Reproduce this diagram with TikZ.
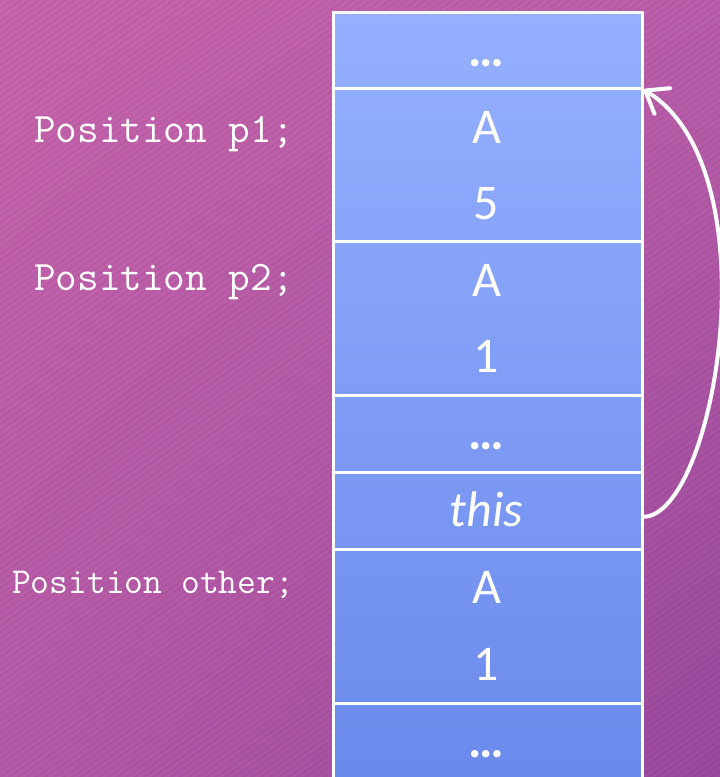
\documentclass[tikz,border=0pt]{standalone}
\usepackage{fontspec}
\setmainfont{Carlito}
\usetikzlibrary{arrows.meta,shadings}
\definecolor{bgUL}{HTML}{C865AD}
\definecolor{bgUR}{HTML}{BC5EAB}
\definecolor{bgLL}{HTML}{B65AA8}
\definecolor{bgLR}{HTML}{9A4A9E}
\definecolor{cellTop}{HTML}{95B0FF}
\definecolor{cellBot}{HTML}{6A8AEC}
\tikzset{
  cell/.style={draw=white, line width=2.5pt, rectangle, minimum width=309pt, anchor=north west, inner sep=0pt},
  val/.style={text=white, font=\fontsize{50}{60}\selectfont, anchor=base, inner sep=0pt},
  dots/.style={val, font=\fontsize{50}{60}\selectfont\bfseries},
  lab/.style={text=white, anchor=base west, inner sep=0pt},
  stripe/.style={draw=black, draw opacity=0.045, line width=2.2pt},
  arr/.style={draw=white, line width=4pt, line cap=round, -{Straight Barb[length=20pt,width=30pt,line cap=round,line join=round]}}
}
\begin{document}
\begin{tikzpicture}[x=1pt,y=-1pt]
\useasboundingbox (0,0) rectangle (720,777);
\shade[upper left=bgUL, upper right=bgUR, lower left=bgLL, lower right=bgLR] (0,0) rectangle (720,777);
\begin{scope}
  \clip (0,0) rectangle (720,777);
  \foreach \i in {-1120,-1111,...,730} \draw[stripe] (\i,780) -- (\i+1114,0);
\end{scope}
% column
\shade[top color=cellTop, bottom color=cellBot] (332,11) rectangle (641,779);
\node[cell, minimum height=76pt] (c0) at (332,11) {};
\node[cell, minimum height=153pt] (g1) at (332,87) {};
\node[cell, minimum height=154pt] (g2) at (332,240) {};
\node[cell, minimum height=77pt] (c3) at (332,394) {};
\node[cell, minimum height=77pt] (c4) at (332,471) {};
\node[cell, minimum height=154pt] (g5) at (332,548) {};
\node[cell, minimum height=77pt] (c6) at (332,702) {};
% values
\node[dots] (t0) at (486.5,66) {…};
\node[val] (t1) at (486.5,143) {A};
\node[val] (t2) at (486.5,219) {5};
\node[val] (t3) at (486.5,296) {A};
\node[val] (t4) at (486.5,372) {1};
\node[dots] (t5) at (486.5,449) {…};
\node[val] (t6) at (486.5,526) {\itshape this};
\node[val] (t7) at (486.5,603) {A};
\node[val] (t8) at (486.5,680) {1};
\node[dots] (t9) at (486.5,757) {…};
% labels
\node[lab, font=\ttfamily\fontsize{42}{50}\selectfont] (l1) at (34,142) {Position p1;};
\node[lab, font=\ttfamily\fontsize{42}{50}\selectfont] (l2) at (34,290) {Position p2;};
\node[lab, font=\ttfamily\fontsize{36.5}{44}\selectfont] (l3) at (12,593) {Position other;};
% pointer
\draw[arr] ([yshift=-6pt]c4.east) .. controls (715,516) and (775,170) .. (c0.south east);
\end{tikzpicture}
\end{document}
